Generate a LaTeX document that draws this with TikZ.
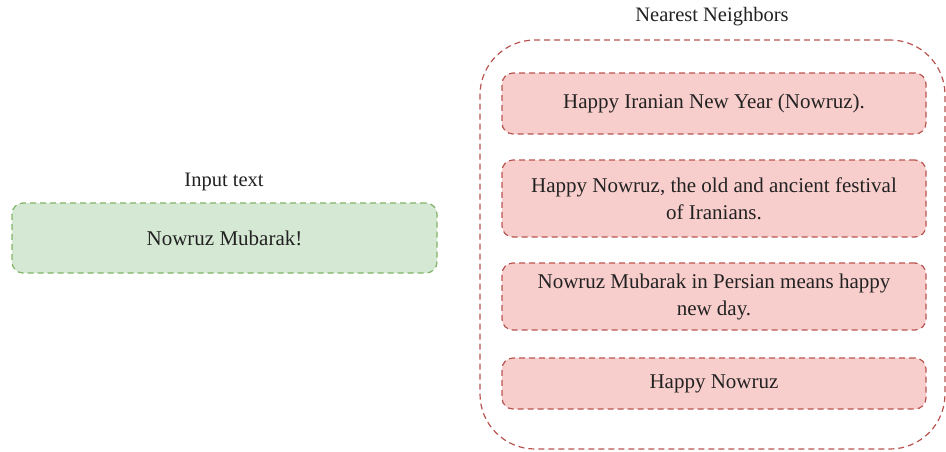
\documentclass[tikz,border=0pt]{standalone}
\usepackage{fontspec}
\setmainfont{Liberation Serif}
\definecolor{gfill}{HTML}{D5E8D4}
\definecolor{gline}{HTML}{82B366}
\definecolor{rfill}{HTML}{F8CECC}
\definecolor{rline}{HTML}{B85450}
\definecolor{txt}{HTML}{222222}
\begin{document}
\begin{tikzpicture}[x=1pt,y=-1pt,
  dsh/.style={dash pattern=on 6pt off 4pt, line width=1.2pt},
  inbox/.style={draw=gline, fill=gfill, dsh, rounded corners=11pt, inner sep=0pt, align=center, text=txt, font=\fontsize{21}{27}\selectfont},
  nbbox/.style={draw=rline, fill=rfill, dsh, rounded corners=11pt, inner sep=0pt, align=center, text=txt, font=\fontsize{21}{27}\selectfont},
  outer/.style={draw=rline, dsh, rounded corners=55pt, inner sep=0pt},
  lbl/.style={text=txt, font=\fontsize{20.5}{24}\selectfont, inner sep=0pt}]
\useasboundingbox (0,0) rectangle (946,451);
\node[lbl] (inlbl) at (224,182) {Input text};
\node[inbox, minimum width=425pt, minimum height=70pt] (input) at (224.5,238) {Nowruz Mubarak!};
\node[lbl] (nnlbl) at (712,17) {Nearest Neighbors};
\node[outer, minimum width=465pt, minimum height=409pt] (group) at (712.5,244.5) {};
\node[nbbox, minimum width=424pt, minimum height=61pt] (n1) at (714,103.5) {Happy Iranian New Year (Nowruz).};
\node[nbbox, minimum width=424pt, minimum height=77pt] (n2) at (714,198.5) {Happy Nowruz, the old and ancient festival\\of Iranians.};
\node[nbbox, minimum width=424pt, minimum height=67pt] (n3) at (714,296.5) {Nowruz Mubarak in Persian means happy\\new day.};
\node[nbbox, minimum width=424pt, minimum height=51pt] (n4) at (714,383.5) {Happy Nowruz};
\end{tikzpicture}
\end{document}
